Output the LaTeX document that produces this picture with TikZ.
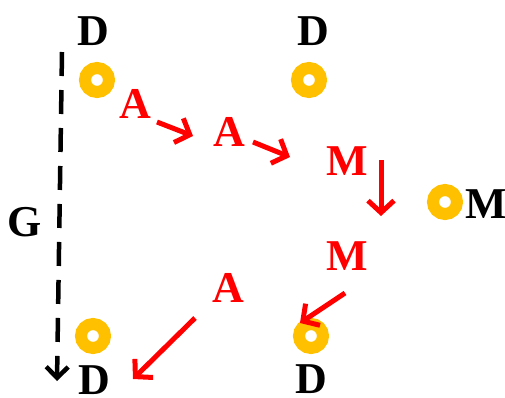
\documentclass[tikz,border=0pt]{standalone}
\usepackage{fontspec}
\setmainfont{Liberation Serif}
\usepackage{tikz}
\usetikzlibrary{arrows.meta}
\definecolor{ringcol}{RGB}{255,192,0}
\tikzset{
	ring/.style={circle,draw=ringcol,line width=12pt,minimum size=24pt,inner sep=0pt},
	blab/.style={font=\fontsize{44}{44}\selectfont\bfseries,text=black,inner sep=0pt},
	rlab/.style={font=\fontsize{44}{44}\selectfont\bfseries,text=red,inner sep=0pt},
	rarr/.style={draw=red,line width=5pt,-{Straight Barb[length=12pt,width=26pt,line width=5pt]}},
	garr/.style={draw=black,line width=4.5pt,dash pattern=on 24pt off 14pt,-{Straight Barb[length=11pt,width=22pt,line width=4.5pt]}}
}
\begin{document}
\begin{tikzpicture}[x=1pt,y=-1pt]
	\useasboundingbox (0,0) rectangle (505,397);

	\node [ring] (r1) at (97,80) {};
	\node [ring] (r2) at (309,80) {};
	\node [ring] (r3) at (445,202) {};
	\node [ring] (r4) at (93,336) {};
	\node [ring] (r5) at (311,336) {};

	\node [blab] (d1) at (93,31) {D};
	\node [blab] (d2) at (313,31) {D};
	\node [blab] (m1) at (486,204) {M};
	\node [blab] (d3) at (94,380) {D};
	\node [blab] (d4) at (311,379) {D};
	\node [blab] (g) at (25,222) {G};

	\node [rlab] (a1) at (135,104) {A};
	\node [rlab] (a2) at (229,132) {A};
	\node [rlab] (m2) at (347,161) {M};
	\node [rlab] (m3) at (347,256) {M};
	\node [rlab] (a3) at (228,288) {A};

	\coordinate (g1) at (62,52);
	\coordinate (g2) at (57,381);
	\coordinate (p1) at (157,122);
	\coordinate (q1) at (193,136);
	\coordinate (p2) at (253,142);
	\coordinate (q2) at (290,157);
	\coordinate (p3) at (381,160);
	\coordinate (q3) at (381,216);
	\coordinate (p4) at (345,293);
	\coordinate (q4) at (300,323);
	\coordinate (p5) at (195,318);
	\coordinate (q5) at (133,379);

	\draw [garr] (g1) -- (g2);
	\draw [rarr] (p1) -- (q1);
	\draw [rarr] (p2) -- (q2);
	\draw [rarr] (p3) -- (q3);
	\draw [rarr] (p4) -- (q4);
	\draw [rarr] (p5) -- (q5);
\end{tikzpicture}
\end{document}
